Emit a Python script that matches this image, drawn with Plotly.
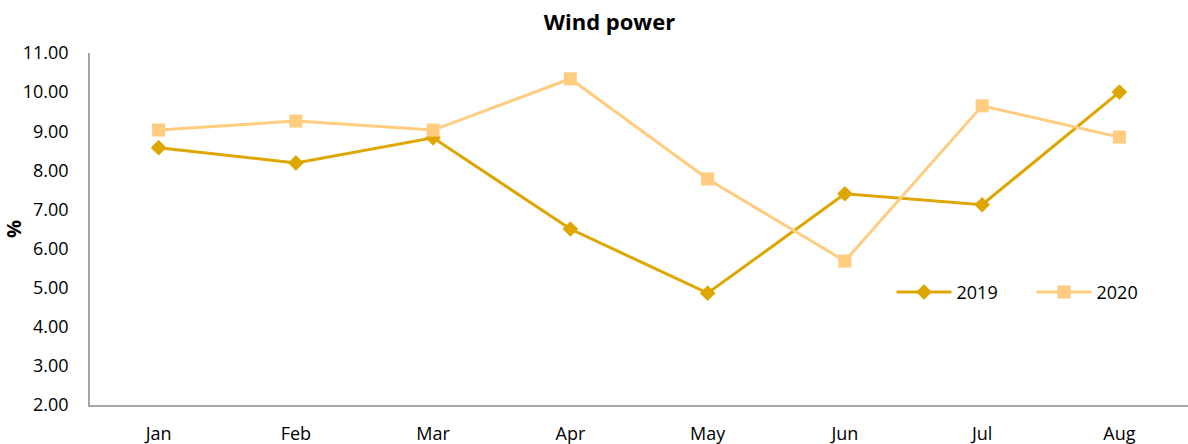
import plotly.graph_objects as go

months = ["Jan", "Feb", "Mar", "Apr", "May", "Jun", "Jul", "Aug"]
wind_2019 = [8.58, 8.19, 8.83, 6.50, 4.86, 7.40, 7.12, 10.00]
wind_2020 = [9.03, 9.26, 9.03, 10.34, 7.78, 5.68, 9.65, 8.85]
y_ticks = [2, 3, 4, 5, 6, 7, 8, 9, 10, 11]

FONT = "Open Sans"

fig = go.Figure()
fig.add_trace(go.Scatter(
    x=months, y=wind_2019, name="2019", mode="lines+markers",
    line=dict(color="#DEA600", width=3),
    marker=dict(symbol="diamond", size=12, color="#DEA600"),
))
fig.add_trace(go.Scatter(
    x=months, y=wind_2020, name="2020", mode="lines+markers",
    line=dict(color="#FFCC80", width=3),
    marker=dict(symbol="square", size=13, color="#FFCC80"),
))

fig.update_layout(
    width=1188, height=444,
    margin=dict(l=90, r=0, t=53, b=39),
    plot_bgcolor="white", paper_bgcolor="white",
    font=dict(family=FONT, size=18, color="#000000"),
    title=dict(text="<b>Wind power</b>", x=0.513, xanchor="center",
               y=0.95, yanchor="middle", font=dict(size=22)),
    legend=dict(orientation="h", x=0.73, xanchor="left", y=0.32, yanchor="middle",
                bgcolor="rgba(0,0,0,0)", font=dict(size=18),
                itemwidth=55, entrywidth=70, tracegroupgap=0),
    showlegend=True,
)
fig.update_xaxes(
    showline=True, linecolor="#A6A6A6", linewidth=1.5, showgrid=False,
    ticks="", ticklabelstandoff=12, range=[-0.5, 7.5],
)
fig.update_yaxes(
    range=[2, 11], tickvals=y_ticks, tickformat=".2f",
    showline=True, linecolor="#A6A6A6", linewidth=1.5, showgrid=False,
    ticks="", ticklabelstandoff=16, zeroline=False,
    title=dict(text="<b>%</b>", standoff=4, font=dict(size=20)),
)

# drop the page's default body margin so the figure sits at the window corner
fig.write_html("out.html", config={"displayModeBar": False},
               post_script="document.body.style.margin='0';")
